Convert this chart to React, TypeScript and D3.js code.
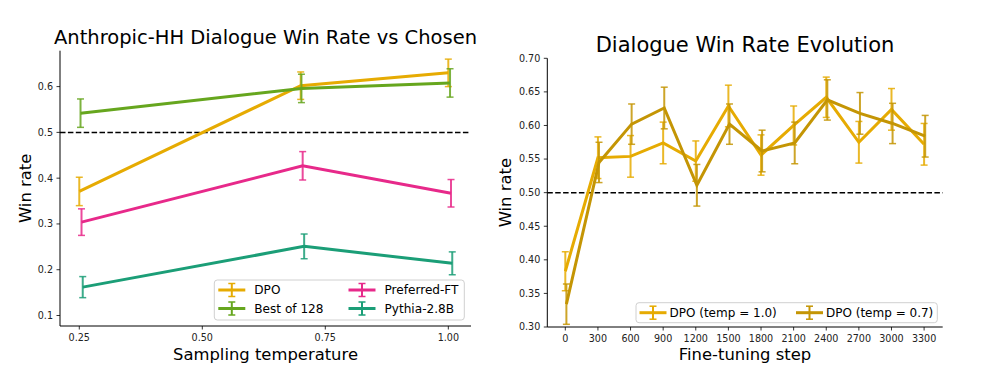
import React from "react";
import * as d3 from "d3";

// ---------- Left chart data ----------
const leftXTicks = [0.25, 0.5, 0.75, 1.0];
const leftXTickLabels = ["0.25", "0.50", "0.75", "1.00"];
const leftYTicks = [0.1, 0.2, 0.3, 0.4, 0.5, 0.6];

const dpoX = [0.25, 0.7, 1.0];
const dpoY = [0.371, 0.602, 0.63];
const dpoErr = [0.031, 0.03, 0.03];

const bestX = [0.2525, 0.7015, 1.0035];
const bestY = [0.542, 0.596, 0.608];
const bestErr = [0.031, 0.031, 0.031];

const prefX = [0.2545, 0.704, 1.0055];
const prefY = [0.304, 0.427, 0.367];
const prefErr = [0.029, 0.031, 0.03];

const pythiaX = [0.257, 0.707, 1.008];
const pythiaY = [0.162, 0.251, 0.214];
const pythiaErr = [0.023, 0.027, 0.025];

const leftSeries = [
  { name: "DPO", color: "#e6ab02", x: dpoX, y: dpoY, err: dpoErr },
  { name: "Best of 128", color: "#66a61e", x: bestX, y: bestY, err: bestErr },
  { name: "Preferred-FT", color: "#e7298a", x: prefX, y: prefY, err: prefErr },
  { name: "Pythia-2.8B", color: "#1b9e77", x: pythiaX, y: pythiaY, err: pythiaErr },
];

// ---------- Right chart data ----------
const rightXTicks = [0, 300, 600, 900, 1200, 1500, 1800, 2100, 2400, 2700, 3000, 3300];
const rightYTicks = [0.3, 0.35, 0.4, 0.45, 0.5, 0.55, 0.6, 0.65, 0.7];

const t10X = [0, 300, 600, 900, 1200, 1500, 1800, 2100, 2400, 2700, 3000, 3300];
const t10Y = [0.383, 0.552, 0.554, 0.574, 0.547, 0.629, 0.556, 0.6, 0.642, 0.575, 0.624, 0.572];
const t10Err = [0.029, 0.031, 0.031, 0.031, 0.03, 0.031, 0.03, 0.029, 0.03, 0.031, 0.031, 0.031];

const t07X = [10, 310, 610, 910, 1210, 1510, 1810, 2110, 2410, 2710, 3010, 3310];
const t07Y = [0.334, 0.545, 0.602, 0.626, 0.511, 0.602, 0.562, 0.574, 0.638, 0.618, 0.603, 0.584];
const t07Err = [0.03, 0.03, 0.03, 0.031, 0.031, 0.03, 0.031, 0.031, 0.03, 0.031, 0.03, 0.031];

const rightSeries = [
  { name: "DPO (temp = 1.0)", color: "#e6ab02", x: t10X, y: t10Y, err: t10Err },
  { name: "DPO (temp = 0.7)", color: "#c49504", x: t07X, y: t07Y, err: t07Err },
];

const FONT = "DejaVu Sans, sans-serif";

type Series = { name: string; color: string; x: number[]; y: number[]; err: number[] };

function SeriesMarks({ s, xs, ys }: { s: Series; xs: any; ys: any }) {
  const pts = s.x.map((xv, i) => [xv, s.y[i]] as [number, number]);
  const line = d3
    .line<[number, number]>()
    .x((d) => xs(d[0]))
    .y((d) => ys(d[1]));
  return (
    <g>
      <path d={line(pts) || ""} fill="none" stroke={s.color} strokeWidth={3} strokeLinejoin="miter" />
      {pts.map((p, i) => {
        const cx = xs(p[0]);
        const y1 = ys(p[1] + s.err[i]);
        const y2 = ys(p[1] - s.err[i]);
        return (
          <g key={i} stroke={s.color} strokeOpacity={0.85}>
            <line x1={cx} x2={cx} y1={y1} y2={y2} strokeWidth={2} />
            <line x1={cx - 3.5} x2={cx + 3.5} y1={y1} y2={y1} strokeWidth={1.5} />
            <line x1={cx - 3.5} x2={cx + 3.5} y1={y2} y2={y2} strokeWidth={1.5} />
          </g>
        );
      })}
    </g>
  );
}

function LegendHandle({ x, y, color }: { x: number; y: number; color: string }) {
  const mid = x + 13.5;
  return (
    <g stroke={color}>
      <line x1={x} x2={x + 27} y1={y} y2={y} strokeWidth={3} />
      <line x1={mid} x2={mid} y1={y - 6.5} y2={y + 6.5} strokeWidth={2} />
      <line x1={mid - 3.5} x2={mid + 3.5} y1={y - 6.5} y2={y - 6.5} strokeWidth={1.5} />
      <line x1={mid - 3.5} x2={mid + 3.5} y1={y + 6.5} y2={y + 6.5} strokeWidth={1.5} />
    </g>
  );
}

export default function App() {
  // Left axes geometry
  const L = { left: 60, right: 471, top: 50.7, bottom: 326 };
  const lx = d3.scaleLinear().domain([0.2108, 1.0461]).range([L.left, L.right]);
  const ly = d3.scaleLinear().domain([0.0771, 0.6784]).range([L.bottom, L.top]);

  // Right axes geometry
  const R = { left: 547.3, right: 942.7, top: 58.3, bottom: 327 };
  const rx = d3.scaleLinear().domain([-165.6, 3471]).range([R.left, R.right]);
  const ry = d3.scaleLinear().domain([0.3, 0.7]).range([R.bottom, R.top]);

  const tickFont = 9.6;

  return (
    <div>
      <style>{`body{margin:0;}`}</style>
      <svg width={987} height={382} style={{ display: "block", background: "#fff" }} fontFamily={FONT}>
        {/* ================= LEFT ================= */}
        <text x={(L.left + L.right) / 2} y={L.top - 7} textAnchor="middle" fontSize={19.5} fill="#000">
          Anthropic-HH Dialogue Win Rate vs Chosen
        </text>
        {/* dashed 0.5 */}
        <line
          x1={L.left}
          x2={L.right - 1}
          y1={ly(0.5)}
          y2={ly(0.5)}
          stroke="#000"
          strokeWidth={1.5}
          strokeDasharray="5.5,2.4"
        />
        {leftSeries.map((s) => (
          <SeriesMarks key={s.name} s={s} xs={lx} ys={ly} />
        ))}
        {/* spines */}
        <line x1={L.left} x2={L.left} y1={L.top} y2={L.bottom} stroke="#000" strokeWidth={1} />
        <line x1={L.left} x2={L.right} y1={L.bottom} y2={L.bottom} stroke="#000" strokeWidth={1} />
        {leftYTicks.map((t) => (
          <g key={t}>
            <line x1={L.left - 3.5} x2={L.left} y1={ly(t)} y2={ly(t)} stroke="#000" strokeWidth={0.8} />
            <text x={L.left - 7} y={ly(t)} dy="0.35em" textAnchor="end" fontSize={tickFont} fill="#222">
              {t.toFixed(1)}
            </text>
          </g>
        ))}
        {leftXTicks.map((t, i) => (
          <g key={t}>
            <line x1={lx(t)} x2={lx(t)} y1={L.bottom} y2={L.bottom + 3.5} stroke="#000" strokeWidth={0.8} />
            <text x={lx(t)} y={L.bottom + 15} textAnchor="middle" fontSize={tickFont} fill="#222">
              {leftXTickLabels[i]}
            </text>
          </g>
        ))}
        <text x={(L.left + L.right) / 2} y={360} textAnchor="middle" fontSize={16.4} fill="#000">
          Sampling temperature
        </text>
        <text
          transform={`translate(31,${(L.top + L.bottom) / 2}) rotate(-90)`}
          textAnchor="middle"
          fontSize={16.4}
          fill="#000"
        >
          Win rate
        </text>
        {/* left legend */}
        <rect x={214.3} y={280} width={250} height={40} rx={3} fill="#fff" fillOpacity={0.8} stroke="#d0d0d0" strokeWidth={1} />
        {leftSeries.map((s, i) => {
          const col = i < 2 ? 0 : 1;
          const row = i % 2;
          const hx = col === 0 ? 218.3 : 348.5;
          const ty = row === 0 ? 290 : 308.5;
          return (
            <g key={s.name}>
              <LegendHandle x={hx} y={ty} color={s.color} />
              <text x={hx + 36} y={ty} dy="0.35em" fontSize={12.1} fill="#000">
                {s.name}
              </text>
            </g>
          );
        })}

        {/* ================= RIGHT ================= */}
        <text x={(R.left + R.right) / 2} y={R.top - 6.3} textAnchor="middle" fontSize={21} fill="#000">
          Dialogue Win Rate Evolution
        </text>
        <line
          x1={R.left}
          x2={R.right}
          y1={ry(0.5)}
          y2={ry(0.5)}
          stroke="#000"
          strokeWidth={1.5}
          strokeDasharray="5.5,2.4"
        />
        {rightSeries.map((s) => (
          <SeriesMarks key={s.name} s={s} xs={rx} ys={ry} />
        ))}
        <line x1={R.left} x2={R.left} y1={R.top} y2={R.bottom} stroke="#000" strokeWidth={1} />
        <line x1={R.left} x2={R.right} y1={R.bottom} y2={R.bottom} stroke="#000" strokeWidth={1} />
        {rightYTicks.map((t) => (
          <g key={t}>
            <line x1={R.left - 3.5} x2={R.left} y1={ry(t)} y2={ry(t)} stroke="#000" strokeWidth={0.8} />
            <text x={R.left - 7} y={ry(t)} dy="0.35em" textAnchor="end" fontSize={tickFont} fill="#222">
              {t.toFixed(2)}
            </text>
          </g>
        ))}
        {rightXTicks.map((t) => (
          <g key={t}>
            <line x1={rx(t)} x2={rx(t)} y1={R.bottom} y2={R.bottom + 3.5} stroke="#000" strokeWidth={0.8} />
            <text x={rx(t)} y={R.bottom + 15} textAnchor="middle" fontSize={tickFont} fill="#222">
              {t}
            </text>
          </g>
        ))}
        <text x={(R.left + R.right) / 2} y={360} textAnchor="middle" fontSize={16.4} fill="#000">
          Fine-tuning step
        </text>
        <text
          transform={`translate(511,${(R.top + R.bottom) / 2}) rotate(-90)`}
          textAnchor="middle"
          fontSize={16.4}
          fill="#000"
        >
          Win rate
        </text>
        {/* right legend */}
        <rect x={636} y={302.7} width={301.3} height={20} rx={3} fill="#fff" fillOpacity={0.8} stroke="#d0d0d0" strokeWidth={1} />
        {rightSeries.map((s, i) => {
          const hx = i === 0 ? 639.5 : 796;
          const ty = 312.7;
          return (
            <g key={s.name}>
              <LegendHandle x={hx} y={ty} color={s.color} />
              <text x={hx + 30} y={ty} dy="0.35em" fontSize={12} fill="#000">
                {s.name}
              </text>
            </g>
          );
        })}
      </svg>
    </div>
  );
}
